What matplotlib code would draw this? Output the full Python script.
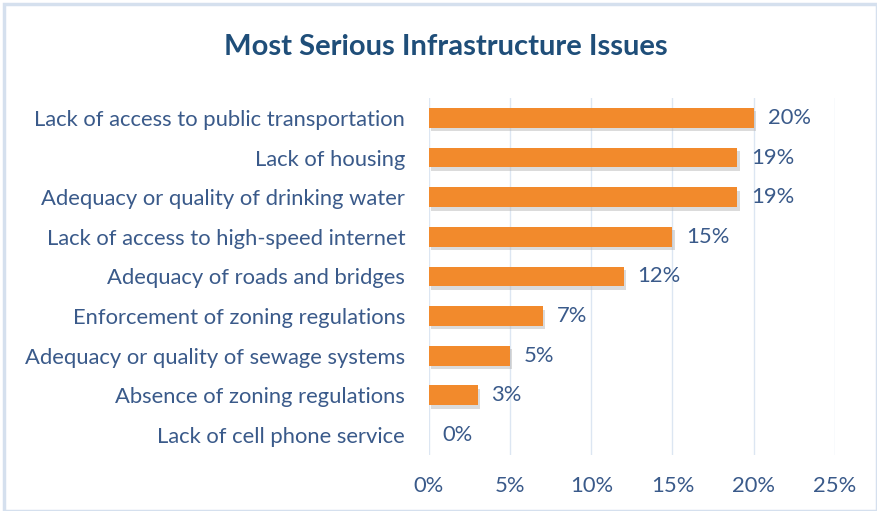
import matplotlib.pyplot as plt
import matplotlib.patheffects as pe
from matplotlib.patches import Rectangle
import numpy as np

categories = ['Lack of access to public transportation', 'Lack of housing',
              'Adequacy or quality of drinking water', 'Lack of access to high-speed internet',
              'Adequacy of roads and bridges', 'Enforcement of zoning regulations',
              'Adequacy or quality of sewage systems', 'Absence of zoning regulations',
              'Lack of cell phone service']
values = [20, 19, 19, 15, 12, 7, 5, 3, 0]
xticks = [0, 5, 10, 15, 20, 25]

textCol = '#3A5A8A'
plt.rcParams['font.family'] = ['Lato', 'DejaVu Sans']

fig = plt.figure(figsize=(8.77, 5.11), dpi=100)
fig.patches.append(Rectangle((0.005, 0.0), 0.995, 0.992, transform=fig.transFigure,
                             fill=False, ec='#D5E0EE', lw=2.5))
ax = fig.add_axes([0.489, 0.110, 0.463, 0.698])

y = np.arange(len(categories))
bars = ax.barh(y, values, height=0.5, color='#F28A2C', zorder=3)
for b in bars:
    b.set_path_effects([pe.SimplePatchShadow(offset=(1.5, -2.5), shadow_rgbFace='#B0B0B0', alpha=0.45),
                        pe.Normal()])

for yi, v in zip(y, values):
    ax.annotate(f'{v}%', (v, yi), xytext=(10, 0), textcoords='offset points',
                va='center', ha='left', fontsize=15.8, color=textCol)

ax.set_xlim(0, 25)
ax.set_ylim(len(categories) - 0.5, -0.5)
ax.set_xticks(xticks)
ax.set_xticklabels([f'{t}%' for t in xticks])
ax.set_yticks(y)
ax.set_yticklabels(categories)
ax.tick_params(axis='both', length=0, labelsize=15.8, labelcolor=textCol)
ax.tick_params(axis='x', pad=15)
ax.tick_params(axis='y', pad=17)
ax.grid(axis='x', color='#DCE6F2', lw=1, zorder=0)
for s in ax.spines.values():
    s.set_visible(False)

fig.text(0.508, 0.908, 'Most Serious Infrastructure Issues', ha='center', va='center',
         fontsize=21, fontweight='bold', color='#1F4E79')

fig.savefig('out.png', dpi=100)
